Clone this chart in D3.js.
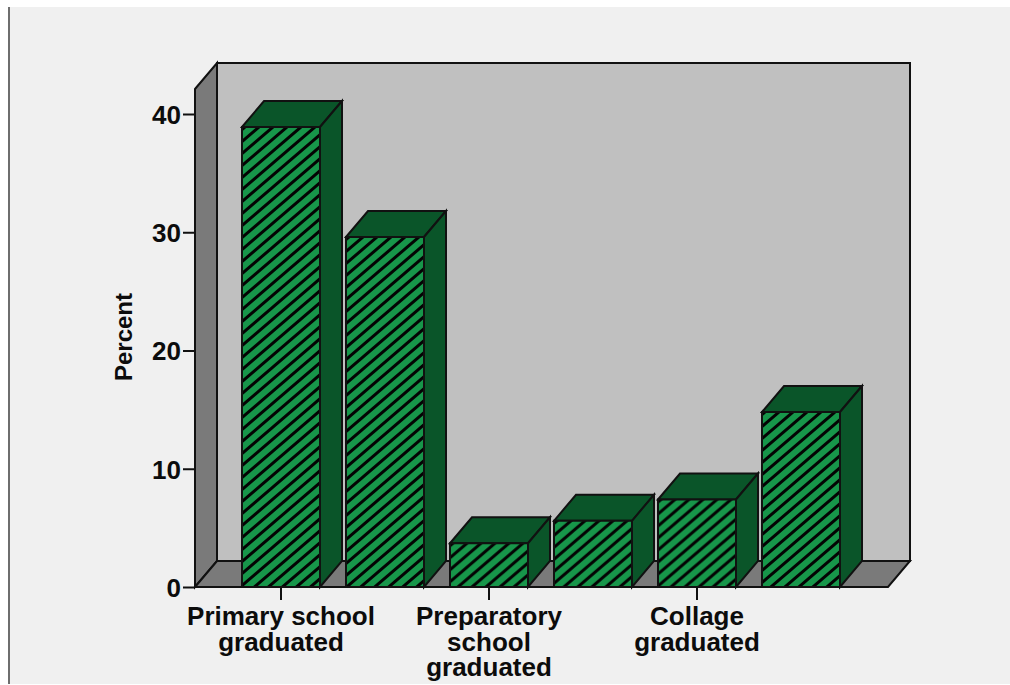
<!DOCTYPE html>
<html>
<head>
<meta charset="utf-8">
<script src="https://cdn.jsdelivr.net/npm/d3@7"></script>
<style>
html,body{margin:0;padding:0;background:#fff;}
svg{display:block;}
text{font-family:"Liberation Sans",Arial,sans-serif;fill:#0c0c0c;}
</style>
</head>
<body>
<svg id="chart" width="1010" height="685"></svg>
<script>
// Education level distribution
const categories = ["Primary school graduated","Secondary school graduated","Preparatory school graduated","Institute graduated","Collage graduated","Postgraduate"];
const percents = [38.9, 29.6, 3.7, 5.6, 7.4, 14.8];
const yTicks = [0, 10, 20, 30, 40];
const shownLabels = {
  "Primary school graduated": ["Primary school","graduated"],
  "Preparatory school graduated": ["Preparatory","school","graduated"],
  "Collage graduated": ["Collage","graduated"]
};

const ink = "#111", wallBack = "#c0c0c0", wallSide = "#7a7a7a";
const barFront = "#17964a", barDark = "#0a5529";

// Oblique projection offset from the front plane to the back plane
const depthX = 22, depthY = -26;
const left = 195, right = 888, floorY = 587, y40 = 114;

const x = d3.scaleBand().domain(categories).range([229, 853]).paddingInner(0.25).paddingOuter(0.125);
const y = d3.scaleLinear().domain([0, 40]).range([floorY, y40]);
const topY = 89;

const svg = d3.select("#chart");
const defs = svg.append("defs");

// Each bar carries its own diagonal hatch, anchored near the bar's top-left corner
const hatchW = 14, hatchH = 12;
categories.forEach((c,i) => {
  const p = defs.append("pattern").attr("id","hatch"+i).attr("patternUnits","userSpaceOnUse")
    .attr("width",hatchW).attr("height",hatchH)
    .attr("x",x(c)+3).attr("y",y(percents[i]));
  p.append("rect").attr("width",hatchW).attr("height",hatchH).attr("fill",barFront);
  const seg = (ox, oy) => `M${ox-hatchW},${oy+2*hatchH} L${ox+2*hatchW},${oy-hatchH}`;
  p.append("path").attr("d",[seg(0,0),seg(-hatchW,0),seg(hatchW,0)].join(" "))
    .attr("stroke","#030303").attr("stroke-width",3).attr("fill","none");
});

// Window background and frame
svg.append("rect").attr("x",9).attr("y",7).attr("width",1001).attr("height",677).attr("fill","#f0f0f0");
svg.append("rect").attr("x",8).attr("y",7).attr("width",2).attr("height",677).attr("fill","#6e6e6e");

const poly = (pts, fill) => svg.append("path")
  .attr("d", d3.line()(pts) + "Z")
  .attr("fill", fill).attr("stroke", ink).attr("stroke-width", 2).attr("stroke-linejoin","miter");

// Box walls
poly([[left+depthX,topY+depthY],[right+depthX,topY+depthY],[right+depthX,floorY+depthY],[left+depthX,floorY+depthY]], wallBack);
poly([[left,topY],[left+depthX,topY+depthY],[left+depthX,floorY+depthY],[left,floorY]], wallSide);
poly([[left,floorY],[left+depthX,floorY+depthY],[right+depthX,floorY+depthY],[right,floorY]], wallSide);

// Bars as extruded blocks
categories.forEach((c,i) => {
  const x0 = x(c), x1 = x0 + x.bandwidth(), yt = y(percents[i]);
  poly([[x0,yt],[x0+depthX,yt+depthY],[x1+depthX,yt+depthY],[x1,yt]], barDark);
  poly([[x1,yt],[x1+depthX,yt+depthY],[x1+depthX,floorY+depthY],[x1,floorY]], barDark);
  poly([[x0,yt],[x1,yt],[x1,floorY],[x0,floorY]], `url(#hatch${i})`);
});

// Y axis
const yAxis = svg.append("g").attr("transform",`translate(${left},0)`)
  .call(d3.axisLeft(y).tickValues(yTicks).tickSize(12).tickPadding(2).tickFormat(d3.format("d")));
yAxis.select(".domain").remove();
yAxis.selectAll("line").attr("stroke",ink).attr("stroke-width",2);
yAxis.selectAll("text").attr("font-size",26).attr("font-weight","bold").attr("dy","0.36em").style("fill","#0c0c0c");

// X axis, labelled on every other category
const labelled = categories.filter(c => shownLabels[c]);
const xAxis = svg.append("g").attr("transform",`translate(0,${floorY})`)
  .call(d3.axisBottom(x).tickValues(labelled).tickSize(13).tickFormat(""));
xAxis.select(".domain").remove();
xAxis.selectAll("line").attr("stroke",ink).attr("stroke-width",2);
labelled.forEach(c => {
  const t = svg.append("text").attr("text-anchor","middle").attr("font-size",26).attr("font-weight","bold");
  shownLabels[c].forEach((line,i) => {
    t.append("tspan").attr("x", x(c)+x.bandwidth()/2).attr("y", 625 + i*25.5).text(line);
  });
});

// Y axis title
svg.append("text").attr("transform","translate(132,337) rotate(-90)")
  .attr("text-anchor","middle").attr("font-size",24).attr("font-weight","bold").text("Percent");
</script>
</body>
</html>
